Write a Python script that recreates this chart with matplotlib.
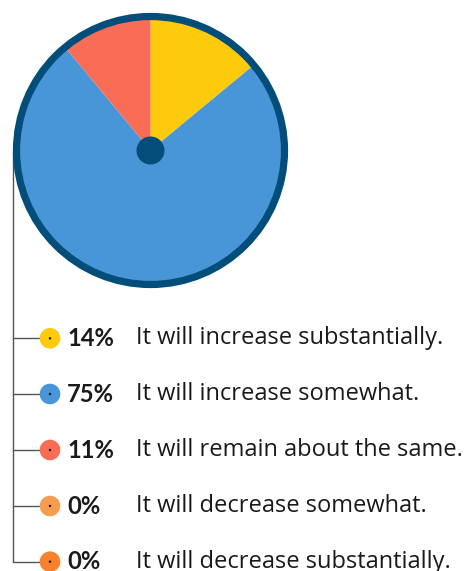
import matplotlib
matplotlib.use("Agg")
import matplotlib.pyplot as plt
from matplotlib.patches import Circle

labels = ["It will increase substantially.", "It will increase somewhat.",
          "It will remain about the same.", "It will decrease somewhat.",
          "It will decrease substantially."]
percents = [14, 75, 11, 0, 0]
colors = ["#FDCB0B", "#4895D8", "#F96D57", "#F79C4F", "#F7812D"]

W, H = 467, 571
fig = plt.figure(figsize=(W / 100, H / 100), dpi=100)
ax = fig.add_axes([0, 0, 1, 1])

def py(y):
    return H - y

cx, cy = 150.5, py(150.5)
R = 134
border = "#034D7A"

ax.pie(percents, colors=colors, startangle=90, counterclock=False,
       center=(cx, cy), radius=R, wedgeprops=dict(linewidth=0),
       frame=True)
ax.set_xlim(0, W)
ax.set_ylim(0, H)
ax.axis("off")
ax.add_patch(Circle((cx, cy), R, fill=False, edgecolor=border, lw=5.2, zorder=5))
ax.add_patch(Circle((cx, cy), 14, color=border, lw=0, zorder=6))

# legend tree
line_x = 12.7
rows = [338.3, 394.0, 450.0, 506.0, 561.7]
ax.plot([line_x, line_x], [py(150.5), py(rows[-1])], color="#555555", lw=1.0, zorder=1,
        solid_capstyle="butt")
pct_texts, lab_texts = [], []
for y, p, lab, c in zip(rows, percents, labels, colors):
    ax.plot([line_x, 50], [py(y), py(y)], color="#555555", lw=1.0, zorder=1)
    ax.add_patch(Circle((50, py(y)), 10.3, color=c, lw=0, zorder=2))
    ax.add_patch(Circle((50, py(y)), 1.2, color="#111111", lw=0, zorder=3))
    pct_texts.append(ax.text(67, py(y), f"{p}%", fontsize=15, fontweight="bold", family="Lato",
                             color="#1a1a1a", va="center", ha="left"))
    lab_texts.append(ax.text(136, py(y), lab, fontsize=15, family="Open Sans",
                             color="#1a1a1a", va="center", ha="left"))

# fit font sizes to the reference text widths
fig.canvas.draw()
r = fig.canvas.get_renderer()
w = lab_texts[0].get_window_extent(r).width
fs = 15 * 307 / w
for t in lab_texts:
    t.set_fontsize(fs)
wp = pct_texts[0].get_window_extent(r).width
fsp = 15 * 47 / wp
for t in pct_texts:
    t.set_fontsize(fsp)

fig.savefig("out.png", dpi=100)
